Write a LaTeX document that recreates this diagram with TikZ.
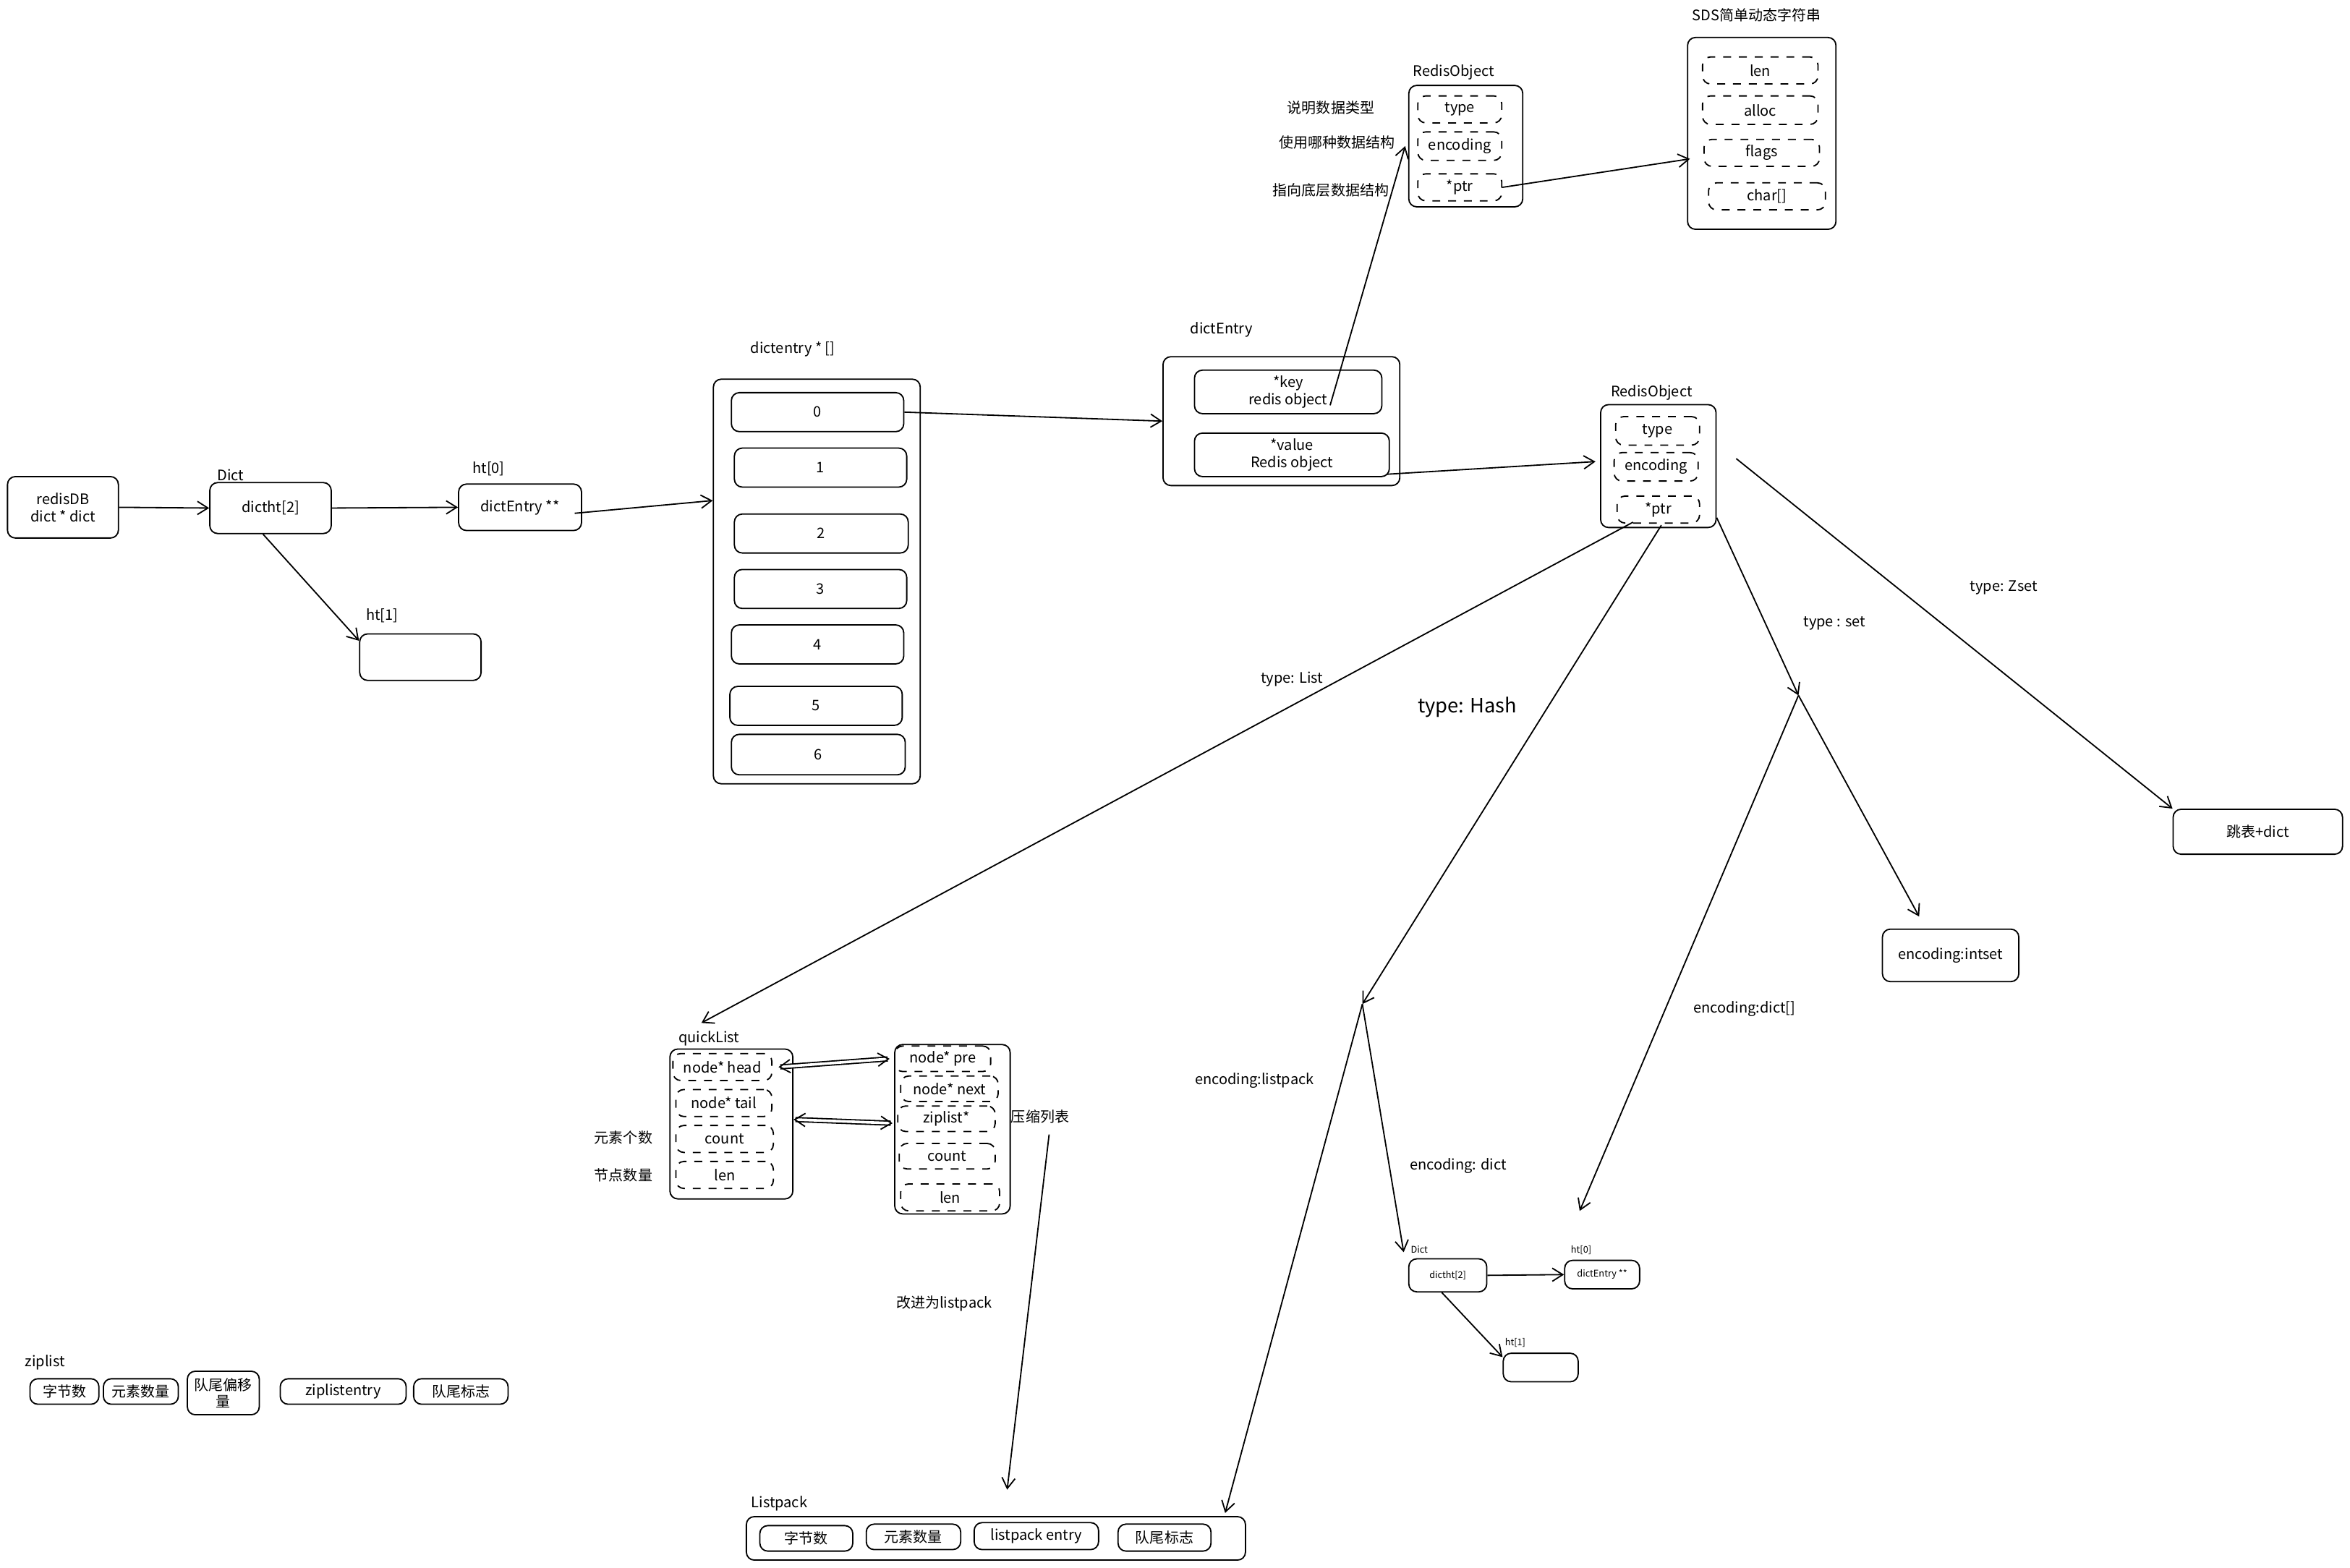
\documentclass[tikz,border=0pt]{standalone}
\usepackage{fontspec}
\setmainfont{Noto Sans CJK SC}
\usetikzlibrary{arrows.meta,calc}
\newcommand{\bx}[7][]{\node[rb,#1,minimum width={(#5-#3)*0.02cm},minimum height={(#6-#4)*0.02cm}] (#2) at ({(#3+#5)/2},{(#4+#6)/2}) {#7};}
\newcommand{\lb}[4][]{\node[lbl,#1] (#2) at (#3) {#4};}
\begin{document}
\begin{tikzpicture}[x=0.02cm,y=-0.02cm,
  rb/.style={draw,rounded corners=3pt,inner sep=0pt,align=center,font=\fontsize{5.5}{6.5}\selectfont,line width=0.5pt},
  dsh/.style={dashed},
  lbl/.style={inner sep=0pt,align=center,font=\fontsize{5.5}{6.5}\selectfont},
  arr/.style={-{Straight Barb[length=4pt,width=5pt]},line width=0.5pt},
  darr/.style={{Straight Barb[length=4pt,width=5pt]}-{Straight Barb[length=4pt,width=5pt]},line width=0.5pt,double,double distance=1pt}]
\useasboundingbox (0,0) rectangle (1568,1046);
% left part
\bx{rdb}{5}{318}{79}{359}{redisDB\\dict * dict}
\lb{l1}{154,317}{Dict}
\bx{dict}{140}{322}{221}{356}{dictht[2]}
\lb{l2}{326,313}{ht[0]}
\bx{ht0}{306}{323}{388}{354}{dictEntry **}
\lb{l3}{255,411}{ht[1]}
\bx{ht1}{240}{423}{321}{454}{}
\lb{l4}{529,233}{dictentry * []}
\bx{arr}{476}{253}{614}{523}{}
\bx{s0}{488}{262}{603}{288}{0}
\bx{s1}{490}{299}{605}{325}{1}
\bx{s2}{490}{343}{606}{369}{2}
\bx{s3}{490}{380}{605}{406}{3}
\bx{s4}{488}{417}{603}{443}{4}
\bx{s5}{487}{458}{602}{484}{5}
\bx{s6}{488}{490}{604}{517}{6}
\lb{l5}{815,220}{dictEntry}
\bx{de}{776}{238}{934}{324}{}
\bx{key}{797}{247}{922}{276}{*key\\redis object}
\bx{val}{797}{289}{927}{318}{*value\\Redis object}
% RedisObject top
\lb{l6}{970,48}{RedisObject}
\bx{ro1}{940}{57}{1016}{138}{}
\bx[dsh]{t1}{946}{64}{1002}{82}{type}
\bx[dsh]{e1}{946}{88}{1002}{107}{encoding}
\bx[dsh]{p1}{946}{116}{1002}{134}{*ptr}
\lb{c1}{888,72}{说明数据类型}
\lb{c2}{892,95}{使用哪种数据结构}
\lb{c3}{888,127}{指向底层数据结构}
\lb{l7}{1172,10}{SDS简单动态字符串}
\bx{sds}{1126}{25}{1225}{153}{}
\bx[dsh]{sa}{1136}{38}{1213}{56}{len}
\bx[dsh]{sb}{1136}{64}{1213}{83}{alloc}
\bx[dsh]{sc}{1137}{93}{1214}{111}{flags}
\bx[dsh]{sd}{1140}{122}{1218}{140}{char[]}
% RedisObject 2
\lb{l8}{1102,262}{RedisObject}
\bx{ro2}{1068}{270}{1145}{352}{}
\bx[dsh]{t2}{1078}{278}{1134}{297}{type}
\bx[dsh]{e2}{1077}{302}{1133}{321}{encoding}
\bx[dsh]{p2}{1079}{331}{1134}{349}{*ptr}
\lb{tl}{862,453}{type: List}
\lb[font=\fontsize{7.5}{9}\selectfont]{th}{979,472}{type: Hash}
\lb{ts}{1224,416}{type : set}
\lb{tz}{1337,392}{type: Zset}
\bx{zs}{1450}{540}{1563}{570}{跳表+dict}
\bx{is}{1256}{620}{1347}{655}{encoding:intset}
\lb{ed}{1164,673}{encoding:dict[]}
\lb{el}{837,721}{encoding:listpack}
\lb{edd}{973,778}{encoding: dict}
% small dict
\lb[font=\fontsize{3.5}{4}\selectfont]{m1}{947,834}{Dict}
\bx[font=\fontsize{3.5}{4}\selectfont]{md}{940}{840}{992}{862}{dictht[2]}
\lb[font=\fontsize{3.5}{4}\selectfont]{m2}{1055,834}{ht[0]}
\bx[font=\fontsize{3.5}{4}\selectfont]{mh0}{1044}{841}{1094}{860}{dictEntry **}
\lb[font=\fontsize{3.5}{4}\selectfont]{m3}{1011,896}{ht[1]}
\bx{mh1}{1003}{903}{1053}{922}{}
% quicklist
\lb{l9}{473,693}{quickList}
\bx{ql}{447}{700}{529}{800}{}
\bx[dsh]{qh}{449}{703}{515}{721}{node* head}
\bx[dsh]{qt}{451}{727}{515}{745}{node* tail}
\bx[dsh]{qc}{451}{751}{516}{769}{count}
\bx[dsh]{qn}{451}{775}{516}{793}{len}
\lb{c4}{416,759}{元素个数}
\lb{c5}{416,784}{节点数量}
\bx{nd}{597}{697}{674}{810}{}
\bx[dsh]{np}{597}{698}{661}{715}{node* pre}
\bx[dsh]{nn}{601}{718}{666}{735}{node* next}
\bx[dsh]{nz}{599}{738}{664}{755}{ziplist*}
\bx[dsh]{nc}{600}{763}{664}{780}{count}
\bx[dsh]{nl}{601}{790}{667}{808}{len}
\lb{c6}{694,745}{压缩列表}
\lb{c7}{630,870}{改进为listpack}
% ziplist
\lb{l10}{30,909}{ziplist}
\bx{z1}{20}{920}{66}{937}{字节数}
\bx{z2}{69}{920}{119}{937}{元素数量}
\bx{z3}{125}{915}{173}{944}{队尾偏移\\量}
\bx{z4}{187}{920}{271}{937}{ziplistentry}
\bx{z5}{276}{920}{339}{937}{队尾标志}
% listpack
\lb{l11}{520,1003}{Listpack}
\bx{lp}{498}{1012}{831}{1041}{}
\bx{lp1}{507}{1018}{569}{1035}{字节数}
\bx{lp2}{578}{1017}{641}{1034}{元素数量}
\bx{lp3}{650}{1016}{733}{1034}{listpack entry}
\bx{lp4}{746}{1017}{808}{1035}{队尾标志}
% junctions
\coordinate (hj) at (909,670);
\coordinate (sj) at (1200,464);
\coordinate (cq) at (700,757);
% connectors
\draw[arr] (rdb.east) -- (dict.west);
\draw[arr] (dict.east) -- (ht0.west);
\draw[arr] ($(dict.south)+(-5,0)$) -- ($(ht1.north west)+(0,5)$);
\draw[arr] ($(ht0.east)+(-5,4)$) -- ($(arr.west)+(0,-54)$);
\draw[arr] (s0.east) -- (de.west);
\draw[arr] ($(key.south)+(28,-6)$) -- ($(ro1.west)+(-2,0)$);
\draw[arr] (p1.east) -- ($(sds.west)+(2,17)$);
\draw[arr] ($(val.south east)+(-2,-2)$) -- ($(ro2.west)+(-3,-3)$);
\draw[arr] ($(ro2.south west)+(22,-4)$) -- ($(ql.north)+(-20,-17)$);
\draw[arr] ($(ro2.south)+(2,-2)$) -- (hj);
\draw[arr] (hj) -- ($(md.north west)+(-3,-4)$);
\draw[arr] (hj) -- ($(lp.north east)+(-14,-2)$);
\draw[arr] ($(ro2.south east)+(0,-7)$) -- (sj);
\draw[arr] (sj) -- ($(is.north)+(-21,-8)$);
\draw[arr] (sj) -- (1054,808);
\draw[arr] ($(ro2.east)+(13,-5)$) -- (zs.north west);
\draw[darr] ($(qh.east)+(4,0)$) -- ($(np.west)+(-3,0)$);
\draw[darr] ($(ql.east)+(0,-3)$) -- ($(nz.west)+(-3,3)$);
\draw[arr] (cq) -- (672,994);
\draw[arr] (md.east) -- (mh0.west);
\draw[arr] ($(md.south)+(-4,0)$) -- ($(mh1.north west)+(0,3)$);
\end{tikzpicture}
\end{document}
